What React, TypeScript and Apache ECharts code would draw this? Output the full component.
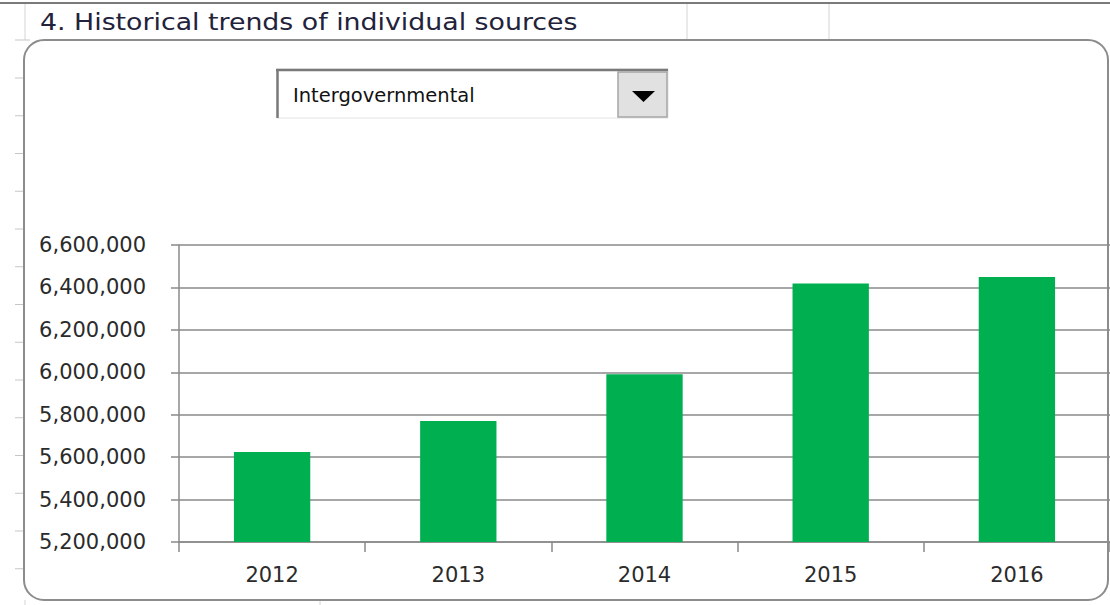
import React, { useEffect, useRef } from "react";
import * as echarts from "echarts";

const years = ["2012", "2013", "2014", "2015", "2016"];
const values = [5624000, 5770000, 5991000, 6418000, 6449000];
const yMin = 5200000;
const yMax = 6600000;
const yStep = 200000;
const titleText = "4. Historical trends of individual sources";
const selectedSource = "Intergovernmental";
const barColor = "#00B050";

const fmt = (v: number) => v.toLocaleString("en-US");

export default function App() {
  const ref = useRef<HTMLDivElement>(null);
  useEffect(() => {
    if (!ref.current) return;
    const chart = echarts.init(ref.current, null, { renderer: "svg" });
    const rowLines: any[] = [];
    for (let i = 0; i < 14; i++) {
      const y = 78 + i * 37.75;
      rowLines.push({
        type: "line",
        shape: { x1: 15, y1: y, x2: 24, y2: y },
        style: { stroke: "#c6c6c6", lineWidth: 1 },
        silent: true,
      });
    }
    chart.setOption({
      animation: false,
      backgroundColor: "#ffffff",
      grid: { left: 179, right: 0, top: 245, bottom: 63, containLabel: false },
      xAxis: {
        type: "category",
        data: years,
        axisLine: { lineStyle: { color: "#8a8a8a", width: 1.5 } },
        axisTick: { show: true, length: 10, lineStyle: { color: "#8a8a8a", width: 1.5 } },
        axisLabel: {
          color: "#2b2b2b",
          fontFamily: "DejaVu Sans",
          fontSize: 21,
          margin: 22,
        },
      },
      yAxis: {
        type: "value",
        min: yMin,
        max: yMax,
        interval: yStep,
        axisLine: { show: true, lineStyle: { color: "#8a8a8a", width: 1.5 } },
        axisTick: { show: true, length: 8, lineStyle: { color: "#8a8a8a", width: 1.5 } },
        splitLine: { lineStyle: { color: "#8a8a8a", width: 1.5 } },
        axisLabel: {
          color: "#2b2b2b",
          fontFamily: "DejaVu Sans",
          fontSize: 21,
          margin: 33,
          formatter: (v: number) => fmt(v),
        },
      },
      series: [
        {
          type: "bar",
          data: values,
          barWidth: "41%",
          itemStyle: { color: barColor },
        },
      ],
      graphic: [
        {
          type: "line",
          shape: { x1: 0, y1: 3, x2: 1110, y2: 3 },
          style: { stroke: "#7a7a7a", lineWidth: 2 },
          silent: true,
        },
        {
          type: "line",
          shape: { x1: 25, y1: 4, x2: 25, y2: 40 },
          style: { stroke: "#d4d4d4", lineWidth: 1 },
          silent: true,
        },
        {
          type: "line",
          shape: { x1: 687, y1: 4, x2: 687, y2: 40 },
          style: { stroke: "#d4d4d4", lineWidth: 1 },
          silent: true,
        },
        {
          type: "line",
          shape: { x1: 829, y1: 4, x2: 829, y2: 40 },
          style: { stroke: "#d4d4d4", lineWidth: 1 },
          silent: true,
        },
        {
          type: "line",
          shape: { x1: 15, y1: 40, x2: 30, y2: 40 },
          style: { stroke: "#c6c6c6", lineWidth: 1 },
          silent: true,
        },
        ...rowLines,
        {
          type: "line",
          shape: { x1: 25, y1: 600, x2: 25, y2: 605 },
          style: { stroke: "#d4d4d4", lineWidth: 1 },
          silent: true,
        },
        {
          type: "line",
          shape: { x1: 320, y1: 600, x2: 320, y2: 605 },
          style: { stroke: "#d4d4d4", lineWidth: 1 },
          silent: true,
        },
        {
          type: "text",
          x: 40,
          y: 22,
          scaleX: 1.165,
          style: {
            text: titleText,
            fill: "#22223a",
            font: "23px 'DejaVu Sans'",
            textVerticalAlign: "middle",
            verticalAlign: "middle",
          },
          silent: true,
        },
        {
          type: "rect",
          z: 50,
          shape: { x: 24, y: 40, width: 1084, height: 560, r: 20 },
          style: { fill: "none", stroke: "#8c8c8c", lineWidth: 2 },
          silent: true,
        },
        {
          type: "rect",
          shape: { x: 277, y: 69, width: 391, height: 49 },
          style: { fill: "#ffffff", stroke: "#e4e4e4", lineWidth: 1 },
          silent: true,
        },
        {
          type: "line",
          shape: { x1: 276, y1: 70, x2: 668, y2: 70 },
          style: { stroke: "#7a7a7a", lineWidth: 2.5 },
          silent: true,
        },
        {
          type: "line",
          shape: { x1: 277.5, y1: 69, x2: 277.5, y2: 118 },
          style: { stroke: "#7a7a7a", lineWidth: 2.5 },
          silent: true,
        },
        {
          type: "rect",
          shape: { x: 618, y: 72, width: 49, height: 45 },
          style: { fill: "#e1e1e1", stroke: "#a5a5a5", lineWidth: 1.5 },
          silent: true,
        },
        {
          type: "polygon",
          shape: { points: [[632, 91], [655, 91], [643.5, 102]] },
          style: { fill: "#000000" },
          silent: true,
        },
        {
          type: "text",
          x: 293,
          y: 95,
          style: {
            text: selectedSource,
            fill: "#111111",
            font: "19.5px 'DejaVu Sans'",
            textVerticalAlign: "middle",
            verticalAlign: "middle",
          },
          silent: true,
        },
      ],
    });
    return () => chart.dispose();
  }, []);
  return (
    <div
      ref={ref}
      style={{ position: "absolute", left: 0, top: 0, width: 1110, height: 605 }}
    />
  );
}
